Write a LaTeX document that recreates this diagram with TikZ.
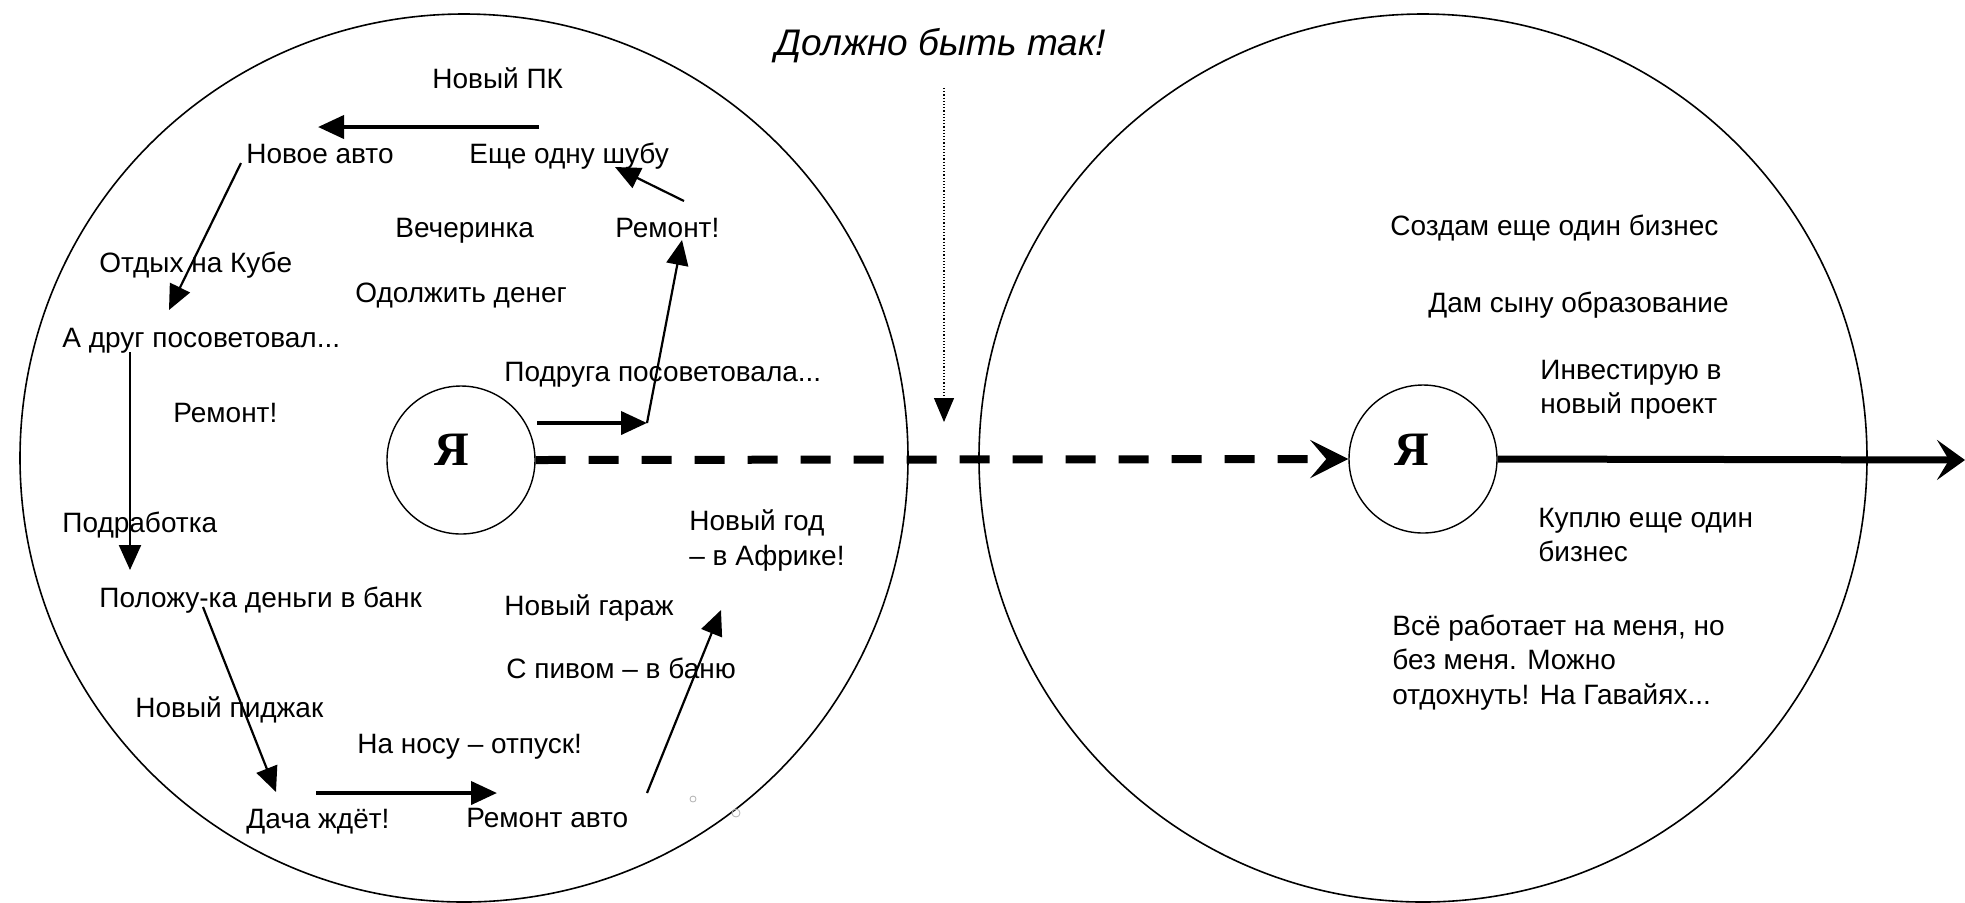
\documentclass[tikz,border=0pt]{standalone}
\usepackage{fontspec}
\setmainfont{Liberation Sans}
\newfontfamily\yafont{Liberation Serif}
\usetikzlibrary{arrows.meta}
\begin{document}
\begin{tikzpicture}[x=0.5pt,y=-0.5pt,
  txt/.style={anchor=base west, inner sep=0pt, font=\fontsize{14}{17.5}\selectfont},
  ttl/.style={anchor=base west, inner sep=0pt, font=\itshape\fontsize{18.5}{22}\selectfont},
  bigc/.style={draw, line width=0.8pt},
  yac/.style={circle, draw, line width=0.7pt, minimum size=74pt, inner sep=0pt},
  yalbl/.style={anchor=base, inner sep=0pt, font=\yafont\bfseries\fontsize{24}{24}\selectfont},
  thin/.style={line width=1.1pt, -{Triangle[length=12.5pt,width=11pt]}},
  thick/.style={line width=2pt, -{Triangle[length=13pt,width=11.5pt]}},
  dsh/.style={line width=4pt, dash pattern=on 15pt off 11.5pt, -{Stealth[length=19pt,width=19pt,inset=8pt]}},
  sol/.style={line width=3.5pt, -{Stealth[length=14pt,width=20pt,inset=6pt]}},
  dot/.style={line width=0.6pt, densely dotted, -{Triangle[length=12pt,width=10pt]}}
]
\useasboundingbox (0,0) rectangle (1965,902);
\fill[white] (0,0) rectangle (1965,902);

% big circles
\draw[bigc] (464,458) circle[radius=222pt];
\draw[bigc] (1423,458) circle[radius=222pt];

% small circles
\node[yac] (ya1) at (461,460) {};
\node[yac] (ya2) at (1423,459) {};
\node[yalbl] (ya1t) at (452,465) {Я};
\node[yalbl] (ya2t) at (1412,465) {Я};

% title
\node[ttl] (title) at (775,55) {Должно быть так!};
\coordinate (d1) at (944,88);
\coordinate (d2) at (944,422);
\draw[dot] (d1) -- (d2);

% left texts
\node[txt] (pk) at (432,88) {Новый ПК};
\node[txt] (avto) at (246,163) {Новое авто};
\node[txt] (shuba) at (469,163) {Еще одну шубу};
\node[txt] (vech) at (395,237) {Вечеринка};
\node[txt] (rem1) at (615,237) {Ремонт!};
\node[txt] (kuba) at (99,272) {Отдых на Кубе};
\node[txt] (odol) at (355,302) {Одолжить денег};
\node[txt] (drug) at (62,347) {А друг посоветовал...};
\node[txt] (podr) at (504,381) {Подруга посоветовала...};
\node[txt] (rem2) at (173,422) {Ремонт!};
\node[txt] (podrab) at (62,532) {Подработка};
\node[txt] (bank) at (99,607) {Положу-ка деньги в банк};
\node[txt] (garazh) at (504,615) {Новый гараж};
\node[txt] (god1) at (689,530) {Новый год};
\node[txt] (god2) at (689,565) {– в Африке!};
\node[txt] (banya) at (506,678) {С пивом – в баню};
\node[txt] (pidzh) at (135,717) {Новый пиджак};
\node[txt] (otpusk) at (357,753) {На носу – отпуск!};
\node[txt] (dacha) at (246,828) {Дача ждёт!};
\node[txt] (remavto) at (466,827) {Ремонт авто};

% right texts
\node[txt] (biz1) at (1390,235) {Создам еще один бизнес};
\node[txt] (syn) at (1428,312) {Дам сыну образование};
\node[txt] (inv1) at (1540,379) {Инвестирую в};
\node[txt] (inv2) at (1540,413) {новый проект};
\node[txt] (kup1) at (1538,527) {Куплю еще один};
\node[txt] (kup2) at (1538,561) {бизнес};
\node[txt] (vse1) at (1392,635) {Всё работает на меня, но};
\node[txt] (vse2) at (1392,669) {без меня. Можно};
\node[txt] (vse3) at (1392,704) {отдохнуть! На Гавайях...};

% arrow end points
\coordinate (a1s) at (539,127);  \coordinate (a1e) at (318,127);
\coordinate (a2s) at (241,163);  \coordinate (a2e) at (169,310);
\coordinate (a3s) at (684,201);  \coordinate (a3e) at (615,167);
\coordinate (a4s) at (537,423);  \coordinate (a4e) at (647,423);
\coordinate (a5e) at (682,240);
\coordinate (a6s) at (130,352);  \coordinate (a6e) at (130,570);
\coordinate (a7s) at (203,607);  \coordinate (a7e) at (276,792);
\coordinate (a8s) at (316,793);  \coordinate (a8e) at (497,793);
\coordinate (a9s) at (647,793);  \coordinate (a9e) at (721,610);
\coordinate (endR) at (1965,460);

\draw[thick] (a1s) -- (a1e);
\draw[thin] (a2s) -- (a2e);
\draw[thin] (a3s) -- (a3e);
\draw[thick] (a4s) -- (a4e);
\draw[thin] (a4e) -- (a5e);
\draw[thin] (a6s) -- (a6e);
\draw[thin] (a7s) -- (a7e);
\draw[thick] (a8s) -- (a8e);
\draw[thin] (a9s) -- (a9e);

% main arrows
\draw[dsh] (ya1.east) -- (ya2.west);
\draw[sol] (ya2.east) -- (endR);

% stray specks
\draw[gray!60, line width=0.4pt] (693,799) circle[radius=1.5pt];
\draw[gray!60, line width=0.4pt] (736,813) circle[radius=2pt];
\end{tikzpicture}
\end{document}
